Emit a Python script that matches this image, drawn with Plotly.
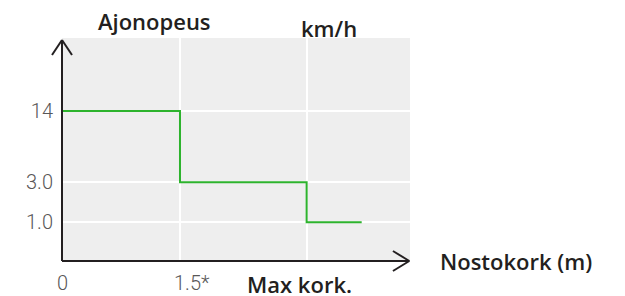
import numpy as np
import plotly.graph_objects as go

# ---- data ----
lift_height = [0, 1.5, 3.11, 3.81]          # m (breakpoints of the step line)
speed = [14, 3.0, 1.0, 1.0]                 # km/h
speed_ticks = [14, 3.0, 1.0]
speed_tick_labels = ["14", "3.0", "1.0"]
height_ticks = [0, 1.5]
height_tick_labels = ["0", "1.5*"]
max_height = 3.11
max_height_label = "Max kork."

# the original y axis is not to scale: map speeds onto its display scale
def yscale(v):
    return np.interp(v, [0, 1, 3, 14], [0, 0.966, 1.966, 3.75])

AX = "#231f20"
TICKFONT = dict(family="Roboto, sans-serif", weight=300, size=20, color="#595757")
TITLEFONT = dict(family="Open Sans, Noto Sans, sans-serif", size=22, color=AX, weight=600)

fig = go.Figure()
fig.add_trace(go.Scatter(
    x=lift_height, y=yscale(speed), mode="lines", line_shape="hv",
    line=dict(color="#2db32d", width=2), hoverinfo="skip", showlegend=False))

fig.update_layout(
    width=617, height=288,
    margin=dict(l=54, r=215, t=30, b=35),
    paper_bgcolor="white", plot_bgcolor="#eeeeee",
    xaxis=dict(range=[0, 4.424], tickvals=[1.5, max_height], showticklabels=False,
               showgrid=True, gridcolor="white", gridwidth=2, zeroline=False,
               showline=False, ticks="", fixedrange=True),
    yaxis=dict(range=[0, 5.575], tickvals=list(yscale(speed_ticks)),
               ticktext=speed_tick_labels, tickfont=TICKFONT,
               showgrid=True, gridcolor="white", gridwidth=2, zeroline=False,
               showline=False, ticks="", ticklabelstandoff=8, fixedrange=True),
)

# axes with arrow heads
wx = 10 / 348
wy = 10 / 223
line = dict(color=AX, width=2)
shapes = [
    dict(type="line", xref="x domain", yref="y domain", x0=0, y0=0, x1=0, y1=0.991, line=line),
    dict(type="line", xref="x domain", yref="y domain", x0=-wx, y0=0.924, x1=0, y1=0.991, line=line),
    dict(type="line", xref="x domain", yref="y domain", x0=wx, y0=0.924, x1=0, y1=0.991, line=line),
    dict(type="line", xref="x domain", yref="y domain", x0=0, y0=0, x1=0.998, y1=0, line=line),
    dict(type="line", xref="x domain", yref="y domain", x0=0.951, y0=wy, x1=0.998, y1=0, line=line),
    dict(type="line", xref="x domain", yref="y domain", x0=0.951, y0=-wy, x1=0.998, y1=0, line=line),
]
fig.update_layout(shapes=shapes)

# x tick labels
fig.add_annotation(x=height_ticks[0], y=-0.1, xref="x", yref="paper",
                   text=height_tick_labels[0], showarrow=False, font=TICKFONT,
                   xanchor="center", yanchor="middle")
fig.add_annotation(x=height_ticks[1], y=-0.1, xref="x", yref="paper",
                   text=height_tick_labels[1], showarrow=False, font=TICKFONT,
                   xanchor="left", xshift=-8, yanchor="middle")
fig.add_annotation(x=max_height, y=-0.105, xref="x", yref="paper",
                   text=max_height_label, showarrow=False, font=TITLEFONT,
                   xanchor="center", xshift=-7, yanchor="middle")

# titles
fig.add_annotation(x=0.2644, y=1.074, xref="paper", yref="paper", text="Ajonopeus",
                   showarrow=False, font=TITLEFONT, xanchor="center", yanchor="middle")
fig.add_annotation(x=0.767, y=1.047, xref="paper", yref="paper", text="km/h",
                   showarrow=False, font=TITLEFONT, xanchor="center", yanchor="middle")
fig.add_annotation(x=1.306, y=0.0, xref="paper", yref="paper", text="Nostokork (m)",
                   showarrow=False, font=TITLEFONT, xanchor="center", yanchor="middle")

fig.write_html("out.html")
